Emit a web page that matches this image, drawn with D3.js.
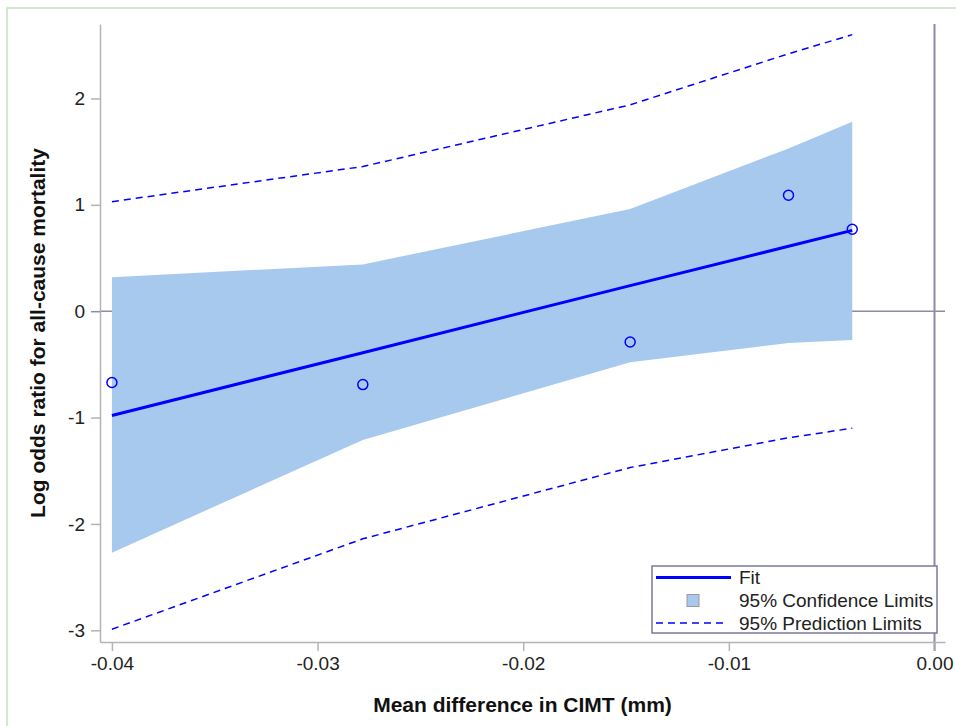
<!DOCTYPE html>
<html><head><meta charset="utf-8">
<script src="https://cdn.jsdelivr.net/npm/d3@7"></script>
<style>
html,body{margin:0;padding:0;background:#fff;}
svg{display:block;font-family:"Liberation Sans",Arial,sans-serif;}
</style></head>
<body><svg id="c" width="956" height="726"></svg>
<script>
// Data
const xValues   = [-0.0400, -0.0278, -0.0148, -0.0071, -0.0040];
const observed  = [-0.67, -0.69, -0.29, 1.09, 0.77];
const fitValues = [-0.98, -0.39, 0.24, 0.61, 0.76];
const ciUpper   = [0.32, 0.44, 0.96, 1.53, 1.78];
const ciLower   = [-2.27, -1.21, -0.48, -0.30, -0.27];
const piUpper   = [1.03, 1.36, 1.94, 2.42, 2.60];
const piLower   = [-2.99, -2.14, -1.47, -1.19, -1.10];
const xTicks    = [-0.04, -0.03, -0.02, -0.01, 0.00];
const yTicks    = [-3, -2, -1, 0, 1, 2];
const legendLabels = ["Fit", "95% Confidence Limits", "95% Prediction Limits"];
const xTitle = "Mean difference in CIMT (mm)";
const yTitle = "Log odds ratio for all-cause mortality";

(function () {
const rows = xValues.map((x, i) => ({x, obs: observed[i], fit: fitValues[i],
  cu: ciUpper[i], cl: ciLower[i], pu: piUpper[i], pl: piLower[i]}));

const svg = d3.select("#c");
const pL = 100, pR = 945, pT = 24, pB = 642;
const x = d3.scaleLinear().domain([-0.04058, 0.00051]).range([pL, pR]);
const y = d3.scaleLinear().domain([-3.11, 2.70]).range([pB, pT]);

const blue = "#0000ff", band = "#a8c9ee", axisGray = "#b4b4b4", refCol = "#8c8ca6";

// outer border
svg.append("rect").attr("x", 7).attr("y", 8).attr("width", 980).attr("height", 760)
  .attr("fill", "none").attr("stroke", "#c6e0c2").attr("stroke-width", 1.5);

// reference lines
svg.append("line").attr("x1", pL).attr("x2", pR).attr("y1", y(0)).attr("y2", y(0))
  .attr("stroke", refCol).attr("stroke-width", 1.5);
svg.append("line").attr("x1", x(0)).attr("x2", x(0)).attr("y1", pT).attr("y2", pB + 9)
  .attr("stroke", refCol).attr("stroke-width", 2);

// confidence band
svg.append("path").datum(rows)
  .attr("d", d3.area().x(d => x(d.x)).y0(d => y(d.cl)).y1(d => y(d.cu)))
  .attr("fill", band);

// prediction limits
["pu", "pl"].forEach(k => {
  svg.append("path").datum(rows)
    .attr("d", d3.line().x(d => x(d.x)).y(d => y(d[k])))
    .attr("fill", "none").attr("stroke", blue).attr("stroke-width", 1.5)
    .attr("stroke-dasharray", "7,5");
});

// fit line
svg.append("path").datum(rows)
  .attr("d", d3.line().x(d => x(d.x)).y(d => y(d.fit)))
  .attr("fill", "none").attr("stroke", blue).attr("stroke-width", 3);

// observed points
svg.selectAll("circle.obs").data(rows).enter().append("circle")
  .attr("class", "obs").attr("cx", d => x(d.x)).attr("cy", d => y(d.obs)).attr("r", 5)
  .attr("fill", "none").attr("stroke", blue).attr("stroke-width", 1.5);

// axes
const xAxis = svg.append("g").attr("transform", `translate(0,${pB})`)
  .call(d3.axisBottom(x).tickValues(xTicks).tickFormat(d3.format(".2f")).tickSize(9).tickSizeOuter(0).tickPadding(6));
const yAxis = svg.append("g").attr("transform", `translate(${pL},0)`)
  .call(d3.axisLeft(y).tickValues(yTicks).tickFormat(d3.format("d")).tickSize(9).tickSizeOuter(0).tickPadding(6));
[xAxis, yAxis].forEach(g => {
  g.select(".domain").attr("stroke", axisGray).attr("stroke-width", 1.5);
  g.selectAll(".tick line").attr("stroke", axisGray).attr("stroke-width", 1.5);
  g.selectAll(".tick text").attr("fill", "#222").attr("font-size", "19px")
    .attr("font-family", "'Liberation Sans',Arial,sans-serif");
});
xAxis.selectAll(".tick text").text(d => d3.format(".2f")(d).replace("−", "-").replace("-0.00", "0.00"));
yAxis.selectAll(".tick text").text(d => String(d).replace("−", "-"));
yAxis.selectAll(".tick").filter(d => d === 0).select("line").attr("stroke", refCol);

// titles
svg.append("text").attr("x", (pL + pR) / 2).attr("y", 712).attr("text-anchor", "middle")
  .attr("font-size", "21px").attr("font-weight", "bold").attr("fill", "#111").text(xTitle);
svg.append("text").attr("transform", `translate(45,${(pT + pB) / 2}) rotate(-90)`)
  .attr("text-anchor", "middle").attr("font-size", "21px").attr("font-weight", "bold")
  .attr("fill", "#111").text(yTitle);

// legend
const lg = svg.append("g");
lg.append("rect").attr("x", 652).attr("y", 566).attr("width", 285).attr("height", 67)
  .attr("fill", "#fff").attr("stroke", "#7a7a9a").attr("stroke-width", 1.5);
const rowY = [577.5, 600.5, 623];
lg.append("line").attr("x1", 656).attr("x2", 731).attr("y1", rowY[0]).attr("y2", rowY[0])
  .attr("stroke", blue).attr("stroke-width", 3);
lg.append("rect").attr("x", 687).attr("y", rowY[1] - 6).attr("width", 12).attr("height", 12)
  .attr("fill", band).attr("stroke", "#9a9a9a").attr("stroke-width", 1);
lg.append("line").attr("x1", 656).attr("x2", 724).attr("y1", rowY[2]).attr("y2", rowY[2])
  .attr("stroke", blue).attr("stroke-width", 1.5).attr("stroke-dasharray", "7,5");
legendLabels.forEach((t, i) => {
  lg.append("text").attr("x", 739).attr("y", rowY[i]).attr("dy", "0.35em")
    .attr("font-size", "19px").attr("fill", "#222").text(t);
});
})();
</script></body></html>
